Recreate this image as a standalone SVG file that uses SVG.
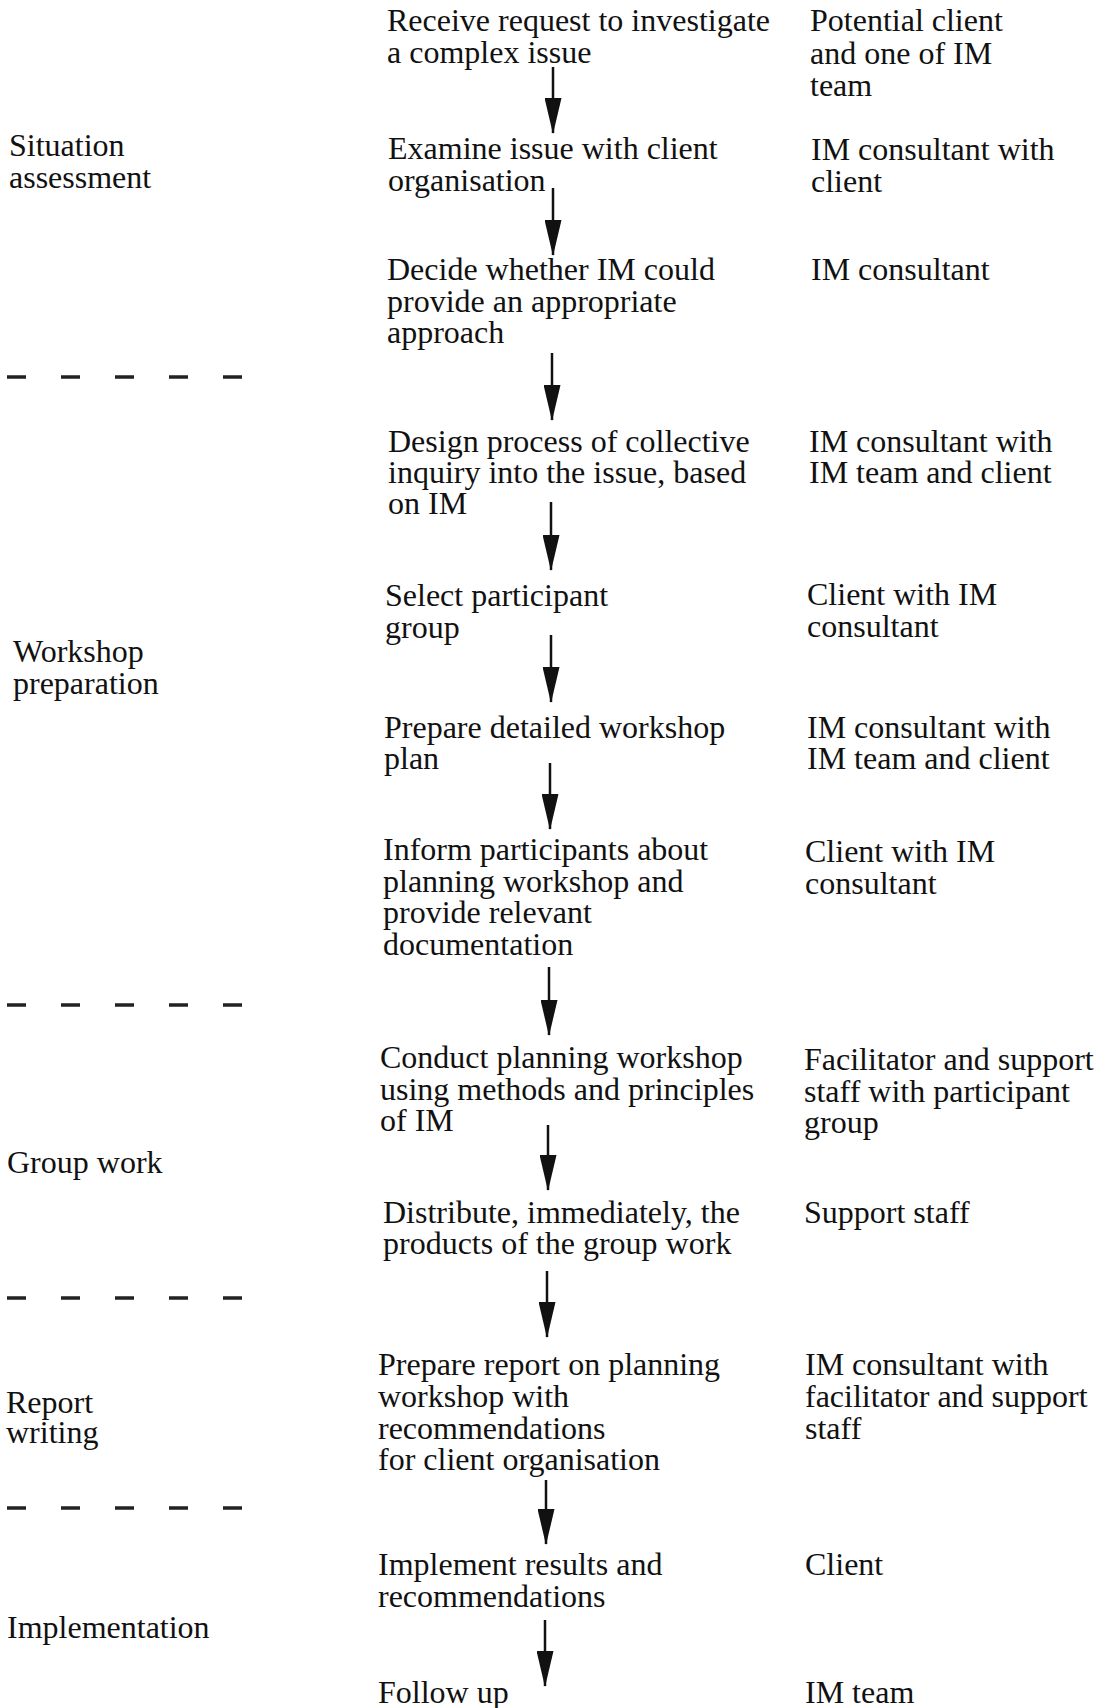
<svg xmlns="http://www.w3.org/2000/svg" width="1106" height="1708" viewBox="0 0 1106 1708">
  <style>
    text { font-family: "Liberation Serif", "Times New Roman", serif; font-size: 32px; fill: #111; }
    .conn line { stroke: #111; stroke-width: 2.5; }
    .divider { stroke: #222; stroke-width: 3.5; stroke-dasharray: 19 35; }
  </style>
  <defs>
    <!-- narrow solid arrowhead, tip at the end of the line -->
    <marker id="head" viewBox="0 0 36 17" refX="35" refY="8.5" markerWidth="36" markerHeight="17" markerUnits="userSpaceOnUse" orient="auto">
      <path d="M0,0 L36,8.5 L0,17 Z" fill="#111"/>
    </marker>
  </defs>
  <rect width="1106" height="1708" fill="#fff"/>

  <!-- phase labels -->
  <g id="phase-situation"><text x="9" y="156">Situation<tspan x="9" y="188">assessment</tspan></text></g>
  <g id="phase-workshop"><text x="13" y="662">Workshop<tspan x="13" y="694">preparation</tspan></text></g>
  <g id="phase-group"><text x="7" y="1173">Group work</text></g>
  <g id="phase-report"><text x="6" y="1413">Report<tspan x="6" y="1443">writing</tspan></text></g>
  <g id="phase-implementation"><text x="7" y="1638">Implementation</text></g>

  <!-- phase dividers -->
  <g id="dividers">
    <line class="divider" x1="7" y1="377" x2="242" y2="377"/>
    <line class="divider" x1="7" y1="1005" x2="242" y2="1005"/>
    <line class="divider" x1="7" y1="1298" x2="242" y2="1298"/>
    <line class="divider" x1="7" y1="1508" x2="242" y2="1508"/>
  </g>

  <!-- steps -->
  <g id="step-receive"><text x="387" y="31">Receive request to investigate<tspan x="387" y="63">a complex issue</tspan></text></g>
  <g id="step-examine"><text x="388" y="159">Examine issue with client<tspan x="388" y="191">organisation</tspan></text></g>
  <g id="step-decide"><text x="387" y="280">Decide whether IM could<tspan x="387" y="312">provide an appropriate</tspan><tspan x="387" y="343">approach</tspan></text></g>
  <g id="step-design"><text x="388" y="452">Design process of collective<tspan x="388" y="483">inquiry into the issue, based</tspan><tspan x="388" y="514">on IM</tspan></text></g>
  <g id="step-select"><text x="385" y="606">Select participant<tspan x="385" y="638">group</tspan></text></g>
  <g id="step-plan"><text x="384" y="738">Prepare detailed workshop<tspan x="384" y="769">plan</tspan></text></g>
  <g id="step-inform"><text x="383" y="860">Inform participants about<tspan x="383" y="892">planning workshop and</tspan><tspan x="383" y="923">provide relevant</tspan><tspan x="383" y="955">documentation</tspan></text></g>
  <g id="step-conduct"><text x="380" y="1068">Conduct planning workshop<tspan x="380" y="1100">using methods and principles</tspan><tspan x="380" y="1131">of IM</tspan></text></g>
  <g id="step-distribute"><text x="383" y="1223">Distribute, immediately, the<tspan x="383" y="1254">products of the group work</tspan></text></g>
  <g id="step-report"><text x="378" y="1375">Prepare report on planning<tspan x="378" y="1407">workshop with</tspan><tspan x="378" y="1439">recommendations</tspan><tspan x="378" y="1470">for client organisation</tspan></text></g>
  <g id="step-implement"><text x="378" y="1575">Implement results and<tspan x="378" y="1607">recommendations</tspan></text></g>
  <g id="step-follow"><text x="378" y="1703">Follow up</text></g>

  <!-- responsible parties -->
  <g id="actor-receive"><text x="810" y="31">Potential client<tspan x="810" y="64">and one of IM</tspan><tspan x="810" y="96">team</tspan></text></g>
  <g id="actor-examine"><text x="811" y="160">IM consultant with<tspan x="811" y="192">client</tspan></text></g>
  <g id="actor-decide"><text x="811" y="280">IM consultant</text></g>
  <g id="actor-design"><text x="809" y="452">IM consultant with<tspan x="809" y="483">IM team and client</tspan></text></g>
  <g id="actor-select"><text x="807" y="605">Client with IM<tspan x="807" y="637">consultant</tspan></text></g>
  <g id="actor-plan"><text x="807" y="738">IM consultant with<tspan x="807" y="769">IM team and client</tspan></text></g>
  <g id="actor-inform"><text x="805" y="862">Client with IM<tspan x="805" y="894">consultant</tspan></text></g>
  <g id="actor-conduct"><text x="804" y="1070">Facilitator and support<tspan x="804" y="1102">staff with participant</tspan><tspan x="804" y="1133">group</tspan></text></g>
  <g id="actor-distribute"><text x="804" y="1223">Support staff</text></g>
  <g id="actor-report"><text x="805" y="1375">IM consultant with<tspan x="805" y="1407">facilitator and support</tspan><tspan x="805" y="1439">staff</tspan></text></g>
  <g id="actor-implement"><text x="805" y="1575">Client</text></g>
  <g id="actor-follow"><text x="805" y="1703">IM team</text></g>

  <!-- flow arrows -->
  <g id="connectors" class="conn">
    <line x1="553" y1="67" x2="553" y2="133" marker-end="url(#head)"/>
    <line x1="553" y1="188" x2="553" y2="255" marker-end="url(#head)"/>
    <line x1="552" y1="353" x2="552" y2="420" marker-end="url(#head)"/>
    <line x1="551" y1="502" x2="551" y2="570" marker-end="url(#head)"/>
    <line x1="551" y1="635" x2="551" y2="702" marker-end="url(#head)"/>
    <line x1="550" y1="763" x2="550" y2="829" marker-end="url(#head)"/>
    <line x1="549" y1="967" x2="549" y2="1035" marker-end="url(#head)"/>
    <line x1="548" y1="1125" x2="548" y2="1190" marker-end="url(#head)"/>
    <line x1="547" y1="1271" x2="547" y2="1337" marker-end="url(#head)"/>
    <line x1="546" y1="1480" x2="546" y2="1544" marker-end="url(#head)"/>
    <line x1="545" y1="1620" x2="545" y2="1686" marker-end="url(#head)"/>
  </g>
</svg>
